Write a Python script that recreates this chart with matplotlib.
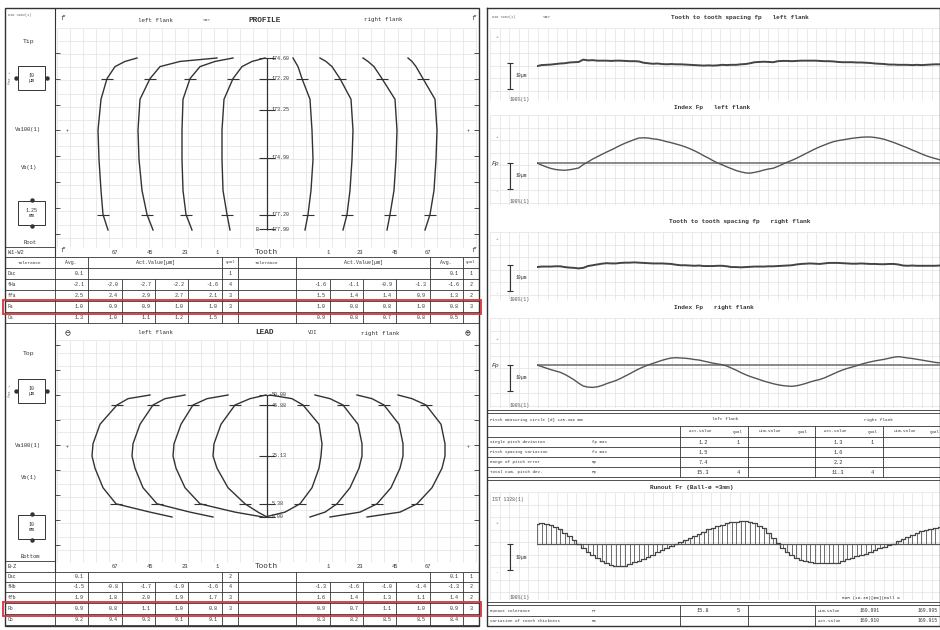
import numpy as np
import matplotlib.pyplot as plt
from matplotlib.patches import Rectangle

plt.rcParams['font.family'] = ['Liberation Mono', 'DejaVu Sans Mono', 'DejaVu Sans']

W, H = 940, 630
INK = '#333333'
GRID = '#e2e2e2'
RED = '#d8343c'

# ---------------------------------------------------------------------------
# data
# ---------------------------------------------------------------------------
tooth_left = ['67', '45', '23', '1']
tooth_right = ['1', '23', '45', '67']

# profile: roll position (root -> tip) and deviation in um for each trace
prof_roll = [0.0, 0.9, 2.3, 4.1, 5.8, 7.6, 8.8, 9.5, 9.8, 10.0]
prof_dev_left = [
    [0, -2.0, -2.8, -3.6, -4.0, -2.8, -0.4, 2.8, 6.8, 11.6],
    [0, -2.4, -4.4, -5.6, -6.0, -5.2, -1.2, 2.8, 10.8, 25.6],
    [0, -2.4, -3.6, -4.0, -4.0, -3.6, -0.8, 3.2, 9.2, 16.4],
    [0, -1.2, -2.8, -3.2, -3.2, -2.4, 1.2, 4.8, 8.8, 14.0],
]
prof_dev_right = [
    [0, 1.2, 2.4, 3.2, 2.8, 2.0, -1.2, -2.8, -4.0, -4.8],
    [0, 1.6, 2.8, 3.6, 4.0, 3.2, -1.2, -4.4, -6.8, -9.2],
    [0, 1.2, 2.8, 3.6, 4.0, 3.2, -2.0, -5.2, -7.6, -9.6],
    [0, 2.0, 3.6, 4.4, 4.8, 4.0, -0.8, -3.6, -5.2, -6.8],
]
prof_axis_pos = [10.0, 8.8, 7.0, 4.2, 0.9, 0.05]
prof_axis_lbl = ['174.60', '172.20', '173.25', '174.90', '177.20', '177.90']

# lead: face width position (bottom -> top) and deviation in um
lead_pos = [0, 2, 5.4, 12, 20, 25, 30, 38, 45.9, 48.5, 50]
lead_dev_left = [
    [32.0, 23.2, 9.6, 4.4, 1.2, 0, 0.4, 3.2, 10.0, 14.4, 23.2],
    [32.4, 23.2, 10.0, 4.4, 1.2, 0, 0.4, 3.2, 8.4, 13.2, 21.2],
    [36.0, 24.8, 10.8, 4.8, 1.2, 0, 0.4, 3.2, 8.0, 13.6, 22.0],
    [21.6, 18.0, 12.8, 6.0, 1.6, 0, 0.4, 3.2, 8.8, 14.8, 21.2],
]
lead_dev_right = [
    [-22.4, -14.4, -8.4, -3.6, -0.8, 0, 0.4, -0.8, -7.2, -11.6, -20.4],
    [-20.8, -14.8, -10.0, -4.8, -1.2, 0, 0, -1.6, -7.6, -12.8, -18.8],
    [-29.2, -17.2, -10.4, -4.8, -1.2, 0, 0, -1.6, -7.6, -12.4, -18.4],
    [-31.2, -18.0, -11.2, -5.2, -1.2, 0, 0, -1.6, -7.6, -13.2, -18.8],
]
lead_axis_pos = [50, 45.9, 25.13, 5.38, 0]
lead_axis_lbl = ['50.00', '45.88', '25.13', '5.38', '0.00']

# index (cumulative pitch) deviation Fp per tooth, um
Fp_left = [0.0, -0.8, -1.5, -2.1, -2.5, -2.7, -2.8, -2.6, -2.3, -1.9,
           -0.6, 0.4, 1.5, 2.4, 3.3, 4.2, 5.0, 5.9, 6.8, 7.6,
           8.3, 9.0, 9.6, 9.7, 9.6, 9.3, 9.1, 8.7, 8.2, 7.8,
           7.3, 6.8, 6.2, 5.5, 4.7, 3.8, 2.8, 1.9, 0.9, 0.0,
           -0.7, -1.5, -2.2, -2.9, -3.4, -3.8, -3.9, -3.6, -3.2, -2.7,
           -2.3, -2.0, -1.3, -0.5, 0.3, 1.0, 1.8, 2.7, 3.6, 4.5,
           5.4, 6.2, 6.9, 7.6, 8.2, 8.6, 8.9, 9.2, 9.5, 9.7,
           9.9, 10.0, 10.0, 9.8, 9.5, 9.1, 8.5, 7.9, 7.2, 6.5,
           5.8, 5.0, 4.3, 3.5, 2.8, 2.2, 1.7, 1.2]
Fp_right = [0.0, -0.6, -1.2, -1.8, -2.3, -2.8, -3.6, -4.6, -5.7, -7.0,
            -8.1, -8.5, -8.6, -8.4, -7.9, -7.2, -6.6, -6.0, -5.2, -4.3,
            -3.4, -2.4, -1.5, -0.7, 0.0, 0.6, 1.2, 1.8, 2.3, 2.7,
            2.8, 2.7, 2.6, 2.4, 2.1, 1.9, 1.5, 1.1, 0.7, 0.4,
            0.1, -0.4, -1.2, -2.0, -2.9, -3.7, -4.4, -5.0, -5.6, -6.2,
            -6.7, -7.2, -7.6, -7.9, -8.1, -8.2, -8.0, -7.6, -7.1, -6.5,
            -6.0, -5.6, -5.0, -4.2, -3.4, -2.6, -1.9, -1.3, -0.8, -0.3,
            0.3, 0.8, 1.2, 1.6, 1.9, 2.2, 2.6, 3.0, 3.2, 3.0,
            2.7, 2.5, 2.2, 1.9, 1.6, 1.3, 1.0, 0.8]
runout = [7.8, 8.0, 7.8, 7.4, 6.6, 5.6, 4.4, 3.0, 1.4, -0.1,
          -1.5, -2.9, -4.2, -5.3, -6.4, -7.3, -8.0, -8.5, -8.6, -8.3,
          -7.6, -7.0, -6.6, -5.9, -5.0, -4.1, -3.2, -2.3, -1.5, -0.6,
          0.1, 0.8, 1.6, 2.4, 3.2, 4.0, 4.8, 5.6, 6.3, 7.0,
          7.5, 7.9, 8.3, 8.6, 8.9, 8.8, 8.5, 7.9, 7.1, 6.0,
          4.4, 2.3, 0.2, -1.6, -3.0, -4.2, -5.2, -6.1, -6.7, -7.0,
          -7.2, -7.3, -7.3, -7.4, -7.4, -7.2, -6.5, -5.8, -5.2, -4.6,
          -4.1, -3.7, -3.0, -2.3, -1.6, -1.0, -0.4, 0.0, 1.0, 1.9,
          2.8, 3.6, 4.4, 5.0, 5.5, 5.9, 6.3, 6.7]

# profile table
prof_rows = ['Dac', 'fHa', 'ffa', 'Fa', 'Ca']
prof_avg_l = ['0.1', '-2.1', '2.5', '1.0', '1.3']
prof_act_l = [None, ['-2.0', '-2.7', '-2.2', '-1.6'], ['2.4', '2.9', '2.7', '2.1'],
              ['0.9', '0.9', '1.0', '1.0'], ['1.0', '1.1', '1.2', '1.5']]
prof_q_l = ['1', '4', '3', '3', '']
prof_act_r = [None, ['-1.6', '-1.1', '-0.9', '-1.3'], ['1.5', '1.4', '1.4', '0.9'],
              ['1.0', '0.8', '0.8', '1.0'], ['0.9', '0.8', '0.7', '0.8']]
prof_avg_r = ['0.1', '-1.6', '1.3', '0.8', '0.5']
prof_q_r = ['1', '2', '2', '3', '']

# lead table
lead_rows = ['Dac', 'fHb', 'ffb', 'Fb', 'Cb']
lead_avg_l = ['0.1', '-1.5', '1.9', '0.9', '9.2']
lead_act_l = [None, ['-0.8', '-1.7', '-1.9', '-1.6'], ['1.8', '2.0', '1.9', '1.7'],
              ['0.8', '1.1', '1.0', '0.8'], ['9.4', '9.3', '9.1', '9.1']]
lead_q_l = ['2', '4', '3', '3', '']
lead_act_r = [None, ['-1.3', '-1.6', '-1.0', '-1.4'], ['1.6', '1.4', '1.3', '1.1'],
              ['0.9', '0.7', '1.1', '1.0'], ['8.3', '8.2', '8.5', '8.5']]
lead_avg_r = ['0.1', '-1.3', '1.4', '0.9', '8.4']
lead_q_r = ['1', '2', '2', '3', '']

# pitch table
pitch_rows = ['Single pitch deviation', 'Pitch spacing variation',
              'Range of pitch error', 'Total cum. pitch dev.']
pitch_sym = ['fp max', 'fu max', 'Rp', 'Fp']
pitch_act_l = ['1.2', '1.5', '7.4', '15.3']
pitch_q_l = ['1', '', '', '4']
pitch_act_r = ['1.3', '1.6', '2.2', '11.3']
pitch_q_r = ['1', '', '', '4']

# ---------------------------------------------------------------------------
# layout helpers (pixel coordinates of the report sheet)
# ---------------------------------------------------------------------------
fig = plt.figure(figsize=(9.4, 6.3), dpi=100)
cv = fig.add_axes([0, 0, 1, 1])
cv.set_xlim(0, W)
cv.set_ylim(H, 0)
cv.axis('off')


def px_axes(x0, y0, x1, y1):
    ax = fig.add_axes([x0 / W, 1 - y1 / H, (x1 - x0) / W, (y1 - y0) / H])
    ax.patch.set_alpha(0)
    ax.axis('off')
    ax.set_xlim(x0, x1)
    return ax


def fit_ylim(ax, y0, y1, v_a, p_a, v_b, p_b):
    s = (v_b - v_a) / (p_b - p_a)
    ax.set_ylim(v_a + (y1 - p_a) * s, v_a + (y0 - p_a) * s)


def txt(x, y, s, size=4.2, ha='center', color=INK, **kw):
    cv.text(x, y, s, fontsize=size, ha=ha, va='center', color=color, **kw)


def grid(x0, x1, y0, y1, dx, dy):
    cv.vlines(np.arange(x0, x1, dx), y0, y1, color=GRID, lw=0.5, zorder=0)
    cv.hlines(np.arange(y0, y1, dy), x0, x1, color=GRID, lw=0.5, zorder=0)


def box(x0, y0, x1, y1, lw=0.8):
    cv.add_patch(Rectangle((x0, y0), x1 - x0, y1 - y0, fill=False, ec=INK, lw=lw))


# ---------------------------------------------------------------------------
# left sheet: profile + lead
# ---------------------------------------------------------------------------
grid(57, 477, 28, 247, 13.1, 13.1)
grid(57, 477, 340, 562, 13.1, 13.1)
box(5, 8, 479, 626, lw=1.0)
cv.vlines(55, 8, 257, color=INK, lw=0.8)
cv.vlines(55, 323, 572, color=INK, lw=0.8)
cv.hlines([247], 5, 55, color=INK, lw=0.6)
cv.hlines([561], 5, 55, color=INK, lw=0.6)

# edge ticks
for yy in np.arange(53, 240, 25.8):
    cv.hlines(yy, 55, 60, color=INK, lw=0.6)
    cv.hlines(yy, 474, 479, color=INK, lw=0.6)
for yy in np.arange(345, 560, 25):
    cv.hlines(yy, 55, 60, color=INK, lw=0.6)
    cv.hlines(yy, 474, 479, color=INK, lw=0.6)
for yy in (130, 446):
    txt(67, yy, '+', size=3.5)
    txt(468, yy, '+', size=3.5)

# left label column
for y_tip, y_b1, y_va, y_vb, y_b2, y_root, tip, root, b2 in (
        (42, 78, 129, 168, 213, 243, 'Tip', 'Root', '1.25\nmm'),
        (353, 391, 445, 478, 527, 556, 'Top', 'Bottom', '10\nmm')):
    txt(29, y_tip, tip, size=4.6)
    box(18, y_b1 - 12, 45, y_b1 + 12, lw=0.7)
    txt(31.5, y_b1, '10\nµm', size=3.6, linespacing=1.1)
    cv.plot([16, 47], [y_b1, y_b1], 'o', ms=2.2, color=INK)
    cv.text(10, y_b1, 'fHa  +', fontsize=2.6, rotation=90, ha='center', va='center', color='#666')
    txt(28, y_va, 'Va100(1)', size=4.0)
    txt(29, y_vb, 'Vb(1)', size=4.0)
    box(18, y_b2 - 12, 45, y_b2 + 12, lw=0.7)
    txt(31.5, y_b2, b2, size=3.6, linespacing=1.1)
    cv.plot([31.5, 31.5], [y_b2 - 13, y_b2 + 13], 'o', ms=2.2, color=INK)
    txt(30, y_root, root, size=4.0)
txt(8, 15, 'DIN 3962(1)', size=2.6, ha='left', color='#666')
txt(8, 252, 'W1-W2', size=3.8, ha='left')
txt(8, 566, 'B-Z', size=3.8, ha='left')

# headers
txt(155, 20, 'left flank', size=4.2)
txt(207, 20, '<O>', size=3.2)
txt(265, 20, 'PROFILE', size=5.6, fontweight='bold')
txt(383, 20, 'right flank', size=4.2)
txt(62, 18, 'f', size=5, style='italic')
txt(473, 18, 'f', size=5, style='italic')
txt(68, 333, '⊖', size=7)
txt(155, 333, 'left flank', size=4.2)
txt(265, 333, 'LEAD', size=5.6, fontweight='bold')
txt(313, 333, 'VDI', size=3.8)
txt(380, 333, 'right flank', size=4.2)
txt(468, 333, '⊕', size=7)

# tooth rows
for yy in (252, 566):
    for xx, lab in zip([115, 150, 185, 217], tooth_left):
        txt(xx, yy, lab, size=4.0)
    for xx, lab in zip([328, 360, 395, 428], tooth_right):
        txt(xx, yy, lab, size=4.0)
    txt(266, yy, 'Tooth', size=5.6)
txt(62, 250, 'f', size=5, style='italic')
txt(473, 250, 'f', size=5, style='italic')

# profile traces
MAG = 2.5  # px per um on the sheet
prof_base_left = [108, 153, 192, 230]
prof_base_right = [305, 343, 387, 425]
ax_p = px_axes(55, 28, 478, 247)
fit_ylim(ax_p, 28, 247, 0.0, 230, 10.0, 58)
roll = np.array(prof_roll)
for base, dev in zip(prof_base_left + prof_base_right, prof_dev_left + prof_dev_right):
    xs = base + MAG * np.array(dev)
    ax_p.plot(xs, roll, color=INK, lw=1.0)
    ax_p.plot(xs[[1, 6]], roll[[1, 6]], '_', ms=9, mew=0.8, color=INK)
ax_p.vlines(267, roll[0], roll[-1], color=INK, lw=0.9)
ax_p.plot([267] * len(prof_axis_pos), prof_axis_pos, '_', ms=11, mew=0.8, color=INK)
for p, lab in zip(prof_axis_pos, prof_axis_lbl):
    ax_p.text(272, p, lab, fontsize=3.6, va='center', ha='left', color=INK)
ax_p.text(259, prof_axis_pos[-1], 'B', fontsize=3.6, va='center', ha='right', color=INK)

# lead traces
lead_base_left = [92, 132, 173, 213]
lead_base_right = [321, 362, 403, 445]
ax_l = px_axes(55, 340, 478, 562)
fit_ylim(ax_l, 340, 562, 0.0, 517, 50.0, 395)
lpos = np.array(lead_pos, dtype=float)
for base, dev in zip(lead_base_left + lead_base_right, lead_dev_left + lead_dev_right):
    xs = base + MAG * np.array(dev)
    ax_l.plot(xs, lpos, color=INK, lw=1.0)
    ax_l.plot(xs[[2, 8]], lpos[[2, 8]], '_', ms=9, mew=0.8, color=INK)
ax_l.vlines(267, lpos[0], lpos[-1], color=INK, lw=0.9)
ax_l.plot([267] * len(lead_axis_pos), lead_axis_pos, '_', ms=11, mew=0.8, color=INK)
for p, lab in zip(lead_axis_pos, lead_axis_lbl):
    ax_l.text(272, p, lab, fontsize=3.6, va='center', ha='left', color=INK)


# tables under profile and lead
def flank_table(rows_y, labels, avg_l, act_l, q_l, act_r, avg_r, q_r, header):
    top, bottom = rows_y[0], rows_y[-1]
    start = 1 if header else 0
    cv.hlines(rows_y, 5, 479, color=INK, lw=0.6)
    cv.vlines([55, 88, 222, 238, 296, 430, 463], top, bottom, color=INK, lw=0.6)
    cv.vlines([122, 155, 188, 330, 363, 396], rows_y[start + 1], bottom, color=INK, lw=0.6)
    if header:
        yh = (rows_y[0] + rows_y[1]) / 2
        txt(30, yh, 'Tolerance', size=3.2)
        txt(71, yh, 'Avg.', size=3.4)
        txt(155, yh, 'Act.Value[µm]', size=3.6)
        txt(230, yh, 'Qual', size=2.8)
        txt(267, yh, 'Tolerance', size=3.2)
        txt(363, yh, 'Act.Value[µm]', size=3.6)
        txt(446, yh, 'Avg.', size=3.4)
        txt(471, yh, 'Qual', size=2.8)
    for i, lab in enumerate(labels):
        yc = (rows_y[start + i] + rows_y[start + i + 1]) / 2
        txt(8, yc, lab, size=3.4, ha='left')
        txt(84, yc, avg_l[i], size=3.6, ha='right')
        txt(230, yc, q_l[i], size=3.6)
        txt(459, yc, avg_r[i], size=3.6, ha='right')
        txt(471, yc, q_r[i], size=3.6)
        if act_l[i] is not None:
            for xr, v in zip([118, 151, 184, 218], act_l[i]):
                txt(xr, yc, v, size=3.6, ha='right')
            for xr, v in zip([326, 359, 392, 426], act_r[i]):
                txt(xr, yc, v, size=3.6, ha='right')


prof_lines = [257, 268, 279, 290, 301, 312, 323]
flank_table(prof_lines, prof_rows, prof_avg_l, prof_act_l, prof_q_l,
            prof_act_r, prof_avg_r, prof_q_r, header=True)
lead_lines = [572, 582, 592, 603, 614, 625]
flank_table(lead_lines, lead_rows, lead_avg_l, lead_act_l, lead_q_l,
            lead_act_r, lead_avg_r, lead_q_r, header=False)
cv.add_patch(Rectangle((3, 299.5), 478, 14, fill=False, ec=RED, lw=1.3, zorder=5))
cv.add_patch(Rectangle((3, 601.5), 478, 14, fill=False, ec=RED, lw=1.3, zorder=5))

# ---------------------------------------------------------------------------
# right sheet: pitch and runout
# ---------------------------------------------------------------------------
for y0, y1 in ((28, 100), (115, 205), (232, 300), (318, 408), (492, 600)):
    grid(490, 940, y0, y1, 9.6, 12.5)
cv.plot([487, 940, 940, 487, 487], [8, 8, 626, 626, 8], color=INK, lw=1.0)
cv.hlines([410, 413, 426, 437, 447, 457, 467, 477, 480, 602, 605, 616, 626],
          487, 940, color=INK, lw=0.6)
cv.vlines([680, 748, 815, 883], 426, 477, color=INK, lw=0.6)
cv.vlines([680, 748, 815], 605, 626, color=INK, lw=0.6)

txt(492, 17, 'DIN 3962(1)', size=2.6, ha='left', color='#666')
txt(547, 17, '<O>', size=3.2)
txt(740, 18, 'Tooth to tooth spacing fp   left flank', size=4.4, fontweight='bold')
txt(712, 107, 'Index Fp   left flank', size=4.4, fontweight='bold')
txt(740, 221, 'Tooth to tooth spacing fp   right flank', size=4.4, fontweight='bold')
txt(714, 308, 'Index Fp   right flank', size=4.4, fontweight='bold')
txt(692, 487, 'Runout Fr (Ball-ø =3mm)', size=4.4, fontweight='bold')
txt(492, 499, 'IST 1328(1)', size=3.4, ha='left', color='#555')

teeth = np.arange(1, len(Fp_left) + 1)
fp_left = np.diff(np.r_[Fp_left[-1], Fp_left])
fp_right = np.diff(np.r_[Fp_right[-1], Fp_right])
PXUM = 2.6

charts = [
    (fp_left, 35, 98, 63, 'line'),
    (Fp_left, 118, 200, 163, 'index'),
    (fp_right, 238, 298, 265, 'line'),
    (Fp_right, 320, 404, 365, 'index'),
    (runout, 505, 592, 544, 'runout'),
]
for vals, y0, y1, base, kind in charts:
    ax = px_axes(537, y0, 940, y1)
    ax.set_xlim(1, len(teeth))
    fit_ylim(ax, y0, y1, 0.0, base, 10.0, base - 10 * PXUM)
    vals = np.asarray(vals)
    if kind == 'line':
        ax.plot(teeth, vals, color='#444444', lw=1.4)
    elif kind == 'index':
        ax.axhline(0, color='#777777', lw=1.2)
        ax.plot(teeth, vals, color='#555555', lw=1.0)
    else:
        ax.axhline(0, color='#555555', lw=0.9)
        ax.vlines(teeth, 0, vals, color='#555555', lw=0.6)
        ax.step(teeth, vals, where='mid', color='#444444', lw=0.9)
    # scale bar 10 um
    cv.vlines(510, base, base + 10 * PXUM, color=INK, lw=0.8)
    cv.hlines([base, base + 10 * PXUM], 507, 513, color=INK, lw=0.8)
    txt(516, base + 5 * PXUM, '10µm', size=3.4, ha='left')
    txt(497, base - 26 if kind != 'runout' else base - 21, '+', size=3.2, color='#666')
    txt(497, base + 10 * PXUM + 2, '-', size=3.2, color='#666')
    txt(510, y1 + 1 if kind != 'runout' else 597, '100%(1)', size=3.4, ha='left', color='#555')
txt(492, 163, 'Fp', size=4.6, style='italic', ha='left')
txt(492, 365, 'Fp', size=4.6, style='italic', ha='left')

# pitch table
txt(490, 419.5, 'Pitch measuring circle [d] 135.396 mm', size=3.0, ha='left')
txt(725, 419.5, 'left flank', size=3.2)
txt(878, 419.5, 'right flank', size=3.2)
for xc, s in ((700, 'Act.value'), (738, 'Qual'), (770, 'Lim.value'), (803, 'Qual'),
              (835, 'Act.value'), (873, 'Qual'), (905, 'Lim.value'), (935, 'Qual')):
    txt(xc, 431.5, s, size=3.0)
for i, lab in enumerate(pitch_rows):
    yc = 442 + 10 * i
    txt(490, yc, lab, size=3.0, ha='left')
    txt(592, yc, pitch_sym[i], size=3.0, ha='left')
    txt(703, yc, pitch_act_l[i], size=3.8)
    txt(738, yc, pitch_q_l[i], size=3.8)
    txt(838, yc, pitch_act_r[i], size=3.8)
    txt(872, yc, pitch_q_r[i], size=3.8)

# runout table
txt(842, 598, 'ROR (10.35)[mm](Ball ø', size=3.2, ha='left')
txt(490, 610.5, 'Runout tolerance', size=3.0, ha='left')
txt(592, 610.5, 'Fr', size=3.0, ha='left')
txt(703, 610.5, '15.8', size=3.8)
txt(738, 610.5, '5', size=3.8)
txt(490, 621, 'Variation of tooth thickness', size=3.0, ha='left')
txt(592, 621, 'Rs', size=3.0, ha='left')
txt(818, 610.5, 'Lim.value', size=3.0, ha='left')
txt(818, 621, 'Act.value', size=3.0, ha='left')
txt(860, 610.5, '169.991', size=3.4, ha='left')
txt(918, 610.5, '169.995', size=3.4, ha='left')
txt(860, 621, '169.910', size=3.4, ha='left')
txt(918, 621, '169.915', size=3.4, ha='left')

fig.savefig('out.png', dpi=100)
